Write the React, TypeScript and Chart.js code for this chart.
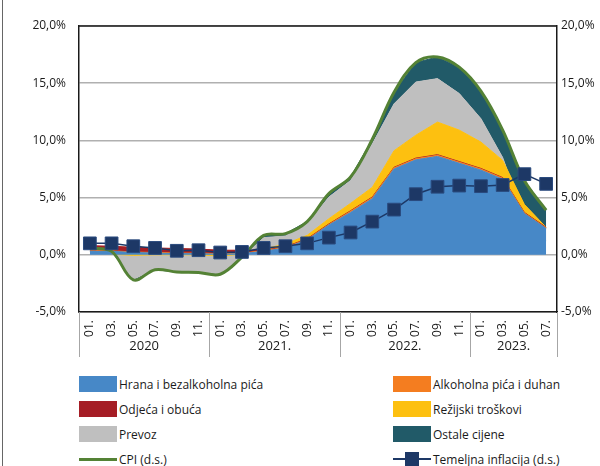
import React, { useEffect, useRef } from 'react';
import { Chart, registerables } from 'chart.js';

Chart.register(...registerables);

const FONT = '"Open Sans", "Noto Sans", sans-serif';

const MONTHS = [
  '01.', '03.', '05.', '07.', '09.', '11.',
  '01.', '03.', '05.', '07.', '09.', '11.',
  '01.', '03.', '05.', '07.', '09.', '11.',
  '01.', '03.', '05.', '07.',
];
const YEARS = ['2020', '2021.', '2022.', '2023.'];

const HRANA = [0.3, 0.3, 0.2, 0.15, 0.1, 0.1, 0.05, 0.1, 0.3, 0.6, 1.3, 2.6, 3.7, 4.9, 7.5, 8.3, 8.6, 8.0, 7.4, 6.6, 3.6, 2.3];
const ALKOHOL = [0.05, 0.05, 0.05, 0.05, 0.05, 0.05, 0.05, 0.05, 0.05, 0.05, 0.05, 0.05, 0.1, 0.1, 0.1, 0.1, 0.1, 0.1, 0.1, 0.1, 0.05, 0.05];
const ODJECA = [0.45, 0.4, 0.4, 0.4, 0.4, 0.35, 0.3, 0.25, 0.05, 0.05, 0.05, 0.05, 0.05, 0.05, 0.05, 0.05, 0.05, 0.05, 0.05, 0.05, 0.05, 0.05];
const REZIJSKI = [-0.2, -0.7, -0.7, -0.6, -0.55, -0.5, -0.5, -0.35, 0.1, 0.25, 0.3, 0.45, 0.65, 0.85, 1.45, 2.0, 2.85, 2.75, 2.3, 1.5, 0.7, 0.0];
const PREVOZ = [0.0, 0.2, -2.1, -1.25, -1.45, -1.5, -1.55, -0.3, 1.0, 0.7, 1.0, 1.9, 2.0, 3.8, 4.1, 4.65, 3.8, 3.2, 2.05, 0.25, -1.2, -1.2];
const OSTALE = [0.0, 0.05, -0.05, -0.05, -0.05, -0.05, -0.05, 0.05, 0.2, 0.2, 0.2, 0.3, 0.3, 0.4, 1.0, 1.7, 1.9, 2.3, 2.4, 2.4, 3.3, 2.7];
const CPI = [0.6, 0.3, -2.2, -1.3, -1.5, -1.55, -1.7, -0.2, 1.7, 1.85, 2.9, 5.35, 6.8, 10.1, 14.2, 16.8, 17.3, 16.4, 14.3, 10.9, 6.5, 3.9];
const TEMELJNA = [1.0, 1.0, 0.75, 0.6, 0.35, 0.4, 0.2, 0.25, 0.6, 0.75, 1.0, 1.5, 1.95, 2.9, 3.95, 5.3, 5.95, 6.05, 6.0, 6.1, 7.05, 6.2];

const C_BLUE = '#4788c7';
const C_ORANGE = '#f47d20';
const C_RED = '#a51d25';
const C_YELLOW = '#fdc010';
const C_GRAY = '#bfbfbf';
const C_TEAL = '#215a68';
const C_GREEN = '#548235';
const C_NAVY = '#1d3866';
const TEXT = '#1a1a1a';

const fmt = (v: number | string) => Number(v).toFixed(1).replace('.', ',') + '%';

const framePlugin = {
  id: 'frame',
  afterDraw(chart: any) {
    const { ctx, chartArea: a, scales } = chart;
    const x = scales.x;
    const step = x.getPixelForValue(1) - x.getPixelForValue(0);
    ctx.save();
    ctx.strokeStyle = TEXT;
    ctx.lineWidth = 1.5;
    ctx.beginPath();
    ctx.moveTo(a.left, a.top);
    ctx.lineTo(a.right, a.top);
    ctx.stroke();

    const starts: number[] = [];
    MONTHS.forEach((m, i) => { if (m === '01.') starts.push(i); });
    const bounds = starts.map((i) => x.getPixelForValue(i) - step / 2);
    bounds.push(a.right);
    ctx.strokeStyle = '#a6a6a6';
    ctx.lineWidth = 1;
    bounds.forEach((b) => {
      ctx.beginPath();
      ctx.moveTo(Math.round(b) + 0.5, a.bottom);
      ctx.lineTo(Math.round(b) + 0.5, a.bottom + 45);
      ctx.stroke();
    });
    ctx.fillStyle = TEXT;
    ctx.font = `13px ${FONT}`;
    ctx.textAlign = 'center';
    ctx.textBaseline = 'middle';
    YEARS.forEach((y, k) => {
      const cx = (bounds[k] + bounds[k + 1]) / 2;
      ctx.fillText(y, cx, a.bottom + 34);
    });
    ctx.restore();
  },
};

const areaDs = (label: string, data: number[], color: string, fill: any) => ({
  label,
  data,
  yAxisID: 'y',
  backgroundColor: color,
  borderColor: color,
  borderWidth: 1,
  pointRadius: 0,
  pointHoverRadius: 0,
  tension: 0,
  fill,
});

export default function App() {
  const ref = useRef<HTMLCanvasElement>(null);

  useEffect(() => {
    const chart = new Chart(ref.current as HTMLCanvasElement, {
      type: 'line',
      data: {
        labels: MONTHS,
        datasets: [
          {
            label: 'Temeljna inflacija (d.s.)',
            data: TEMELJNA,
            yAxisID: 'y2',
            borderColor: C_NAVY,
            backgroundColor: C_NAVY,
            borderWidth: 1.5,
            pointStyle: 'rect',
            pointRadius: 9,
            pointBorderWidth: 1,
            pointBorderColor: '#2a4a7e',
            pointBackgroundColor: C_NAVY,
            tension: 0,
            fill: false,
          } as any,
          {
            label: 'CPI (d.s.)',
            data: CPI,
            yAxisID: 'y2',
            borderColor: C_GREEN,
            backgroundColor: C_GREEN,
            borderWidth: 3,
            pointRadius: 0,
            tension: 0.35,
            fill: false,
          },
          areaDs('Hrana i bezalkoholna pića', HRANA, C_BLUE, 'origin'),
          areaDs('Alkoholna pića i duhan', ALKOHOL, C_ORANGE, '-1'),
          areaDs('Odjeća i obuća', ODJECA, C_RED, '-1'),
          areaDs('Režijski troškovi', REZIJSKI, C_YELLOW, '-1'),
          areaDs('Prevoz', PREVOZ, C_GRAY, '-1'),
          areaDs('Ostale cijene', OSTALE, C_TEAL, '-1'),
        ],
      },
      options: {
        responsive: false,
        animation: false,
        devicePixelRatio: 1,
        layout: { padding: { top: 26, left: 0, right: 0, bottom: 0 } },
        plugins: {
          legend: { display: false },
          tooltip: { enabled: false },
        },
        scales: {
          x: {
            type: 'category',
            offset: true,
            grid: { display: false, drawTicks: false },
            border: { display: true, color: TEXT, width: 1.5 },
            ticks: {
              autoSkip: false,
              minRotation: 90,
              maxRotation: 90,
              padding: 8,
              color: TEXT,
              font: { family: FONT, size: 12 },
            },
            afterFit(s: any) { s.height = 48; },
          },
          y: {
            position: 'left',
            stacked: 'single',
            min: -5,
            max: 20,
            ticks: {
              stepSize: 5,
              padding: 13,
              color: TEXT,
              font: { family: FONT, size: 12 },
              callback: (v: any) => fmt(v),
            },
            grid: { color: '#b0b0b0', lineWidth: 1.5, drawTicks: false },
            border: { color: TEXT, width: 1.5 },
            afterFit(s: any) { s.width = 79; },
          } as any,
          y2: {
            position: 'right',
            min: -5,
            max: 20,
            ticks: {
              stepSize: 5,
              padding: 4,
              color: TEXT,
              font: { family: FONT, size: 12 },
              callback: (v: any) => fmt(v),
            },
            grid: { drawOnChartArea: false, drawTicks: false },
            border: { color: TEXT, width: 1.5 },
            afterFit(s: any) { s.width = 43; },
          },
        },
      },
      plugins: [framePlugin],
    });
    return () => chart.destroy();
  }, []);

  const legendItems = [
    { label: 'Hrana i bezalkoholna pića', color: C_BLUE, kind: 'box', col: 0, row: 0 },
    { label: 'Alkoholna pića i duhan', color: C_ORANGE, kind: 'box', col: 1, row: 0 },
    { label: 'Odjeća i obuća', color: C_RED, kind: 'box', col: 0, row: 1 },
    { label: 'Režijski troškovi', color: C_YELLOW, kind: 'box', col: 1, row: 1 },
    { label: 'Prevoz', color: C_GRAY, kind: 'box', col: 0, row: 2 },
    { label: 'Ostale cijene', color: C_TEAL, kind: 'box', col: 1, row: 2 },
    { label: 'CPI (d.s.)', color: C_GREEN, kind: 'line', col: 0, row: 3 },
    { label: 'Temeljna inflacija (d.s.)', color: C_NAVY, kind: 'marker', col: 1, row: 3 },
  ];
  const colX = [79, 393];
  const rowY = [384, 409, 434, 459];

  return (
    <div style={{ position: 'absolute', left: 0, top: 0, width: 600, height: 466, background: '#fff', overflow: 'hidden', fontFamily: FONT }}>
      <div style={{ position: 'absolute', left: 2, top: 0, width: 1, height: 466, background: '#666' }} />
      <div style={{ position: 'absolute', left: 0, top: 0, width: 600, height: 360 }}>
        <canvas ref={ref} width={600} height={360} style={{ width: 600, height: 360, display: 'block' }} />
      </div>
      {legendItems.map((it) => {
        const x = colX[it.col];
        const cy = rowY[it.row];
        return (
          <div key={it.label} style={{ position: 'absolute', left: x, top: cy - 10, height: 20, display: 'flex', alignItems: 'center' }}>
            <div style={{ position: 'relative', width: 38, height: 20 }}>
              {it.kind === 'box' && (
                <div style={{ position: 'absolute', left: 0, top: 2, width: 38, height: 16, background: it.color }} />
              )}
              {it.kind === 'line' && (
                <div style={{ position: 'absolute', left: 0, top: 8.5, width: 38, height: 3, background: it.color }} />
              )}
              {it.kind === 'marker' && (
                <>
                  <div style={{ position: 'absolute', left: 0, top: 9, width: 38, height: 1.5, background: it.color }} />
                  <div style={{ position: 'absolute', left: 12, top: 3, width: 14, height: 14, background: it.color }} />
                </>
              )}
            </div>
            <span style={{ marginLeft: 2, fontSize: 12, color: TEXT, whiteSpace: 'nowrap' }}>{it.label}</span>
          </div>
        );
      })}
    </div>
  );
}
